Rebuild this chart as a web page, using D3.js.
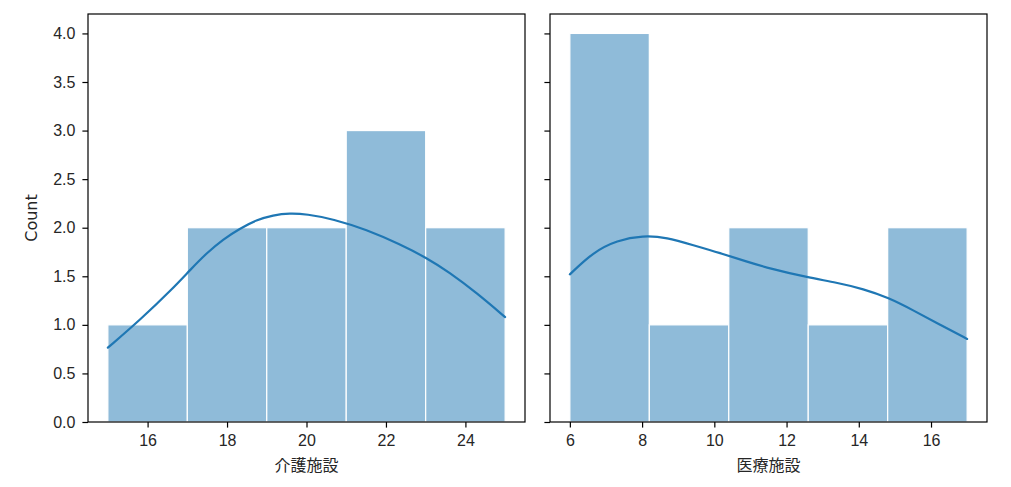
<!DOCTYPE html>
<html lang="ja">
<head>
  <meta charset="utf-8">
  <title>介護施設 / 医療施設 histogram</title>
  <script src="https://cdn.jsdelivr.net/npm/d3@7"></script>
  <style>
  body { margin: 0; background: #fff; }
  svg { font-family: "DejaVu Sans", sans-serif; }
  </style>
</head>
<body>
  <script>
  // histogram bins and counts
  var leftEdges = [15, 17, 19, 21, 23, 25];
  var leftCounts = [1, 2, 2, 3, 2];
  var rightEdges = [6, 8.2, 10.4, 12.6, 14.8, 17];
  var rightCounts = [4, 1, 2, 1, 2];

  // kde lines (estimated points along the curve)
  var leftKdeX = [15.0, 15.81, 16.65, 17.07, 17.49, 17.9, 18.32, 18.74, 19.16, 19.58, 20.0, 20.67, 21.51, 22.35, 23.02, 23.6, 24.28, 25.0];
  var leftKdeY = [0.765, 1.05, 1.38, 1.565, 1.74, 1.88, 1.99, 2.08, 2.13, 2.15, 2.14, 2.09, 1.98, 1.83, 1.69, 1.54, 1.33, 1.08];
  var rightKdeX = [6.0, 6.65, 7.3, 8.03, 8.68, 9.42, 10.16, 10.9, 11.54, 12.56, 13.39, 14.13, 14.82, 15.51, 16.25, 17.0];
  var rightKdeY = [1.52, 1.75, 1.87, 1.92, 1.90, 1.82, 1.74, 1.65, 1.58, 1.49, 1.435, 1.37, 1.28, 1.15, 1.0, 0.855];

  var leftTicks = [16, 18, 20, 22, 24];
  var rightTicks = [6, 8, 10, 12, 14, 16];
  var yTicks = [0, 0.5, 1, 1.5, 2, 2.5, 3, 3.5, 4];
  var xLabels = ["介護施設", "医療施設"];

  var width = 1011, height = 487;
  var plotTop = 14, plotBottom = 422;
  var fill = "#8fbbd9", line = "#1f77b4";

  var svg = d3.select("body").append("svg")
  .attr("width", width)
  .attr("height", height);

  var y = d3.scaleLinear().domain([0, 4.2]).range([plotBottom, plotTop]);

  function panel(x0, x1, edges, counts, kx, ky, ticks, label, showY) {
    var lo = edges[0], hi = edges[edges.length - 1], pad = (hi - lo) * 0.05;
    var x = d3.scaleLinear().domain([lo - pad, hi + pad]).range([x0, x1]);
    var g = svg.append("g");

    g.selectAll("rect").data(counts).enter().append("rect")
    .attr("x", function(d, i) { return x(edges[i]); })
    .attr("y", function(d) { return y(d); })
    .attr("width", function(d, i) { return x(edges[i + 1]) - x(edges[i]); })
    .attr("height", function(d) { return y(0) - y(d); })
    .attr("fill", fill)
    .attr("stroke", "#fff")
    .attr("stroke-width", 1.2);

    var pts = kx.map(function(v, i) { return [v, ky[i]]; });
    g.append("path")
    .attr("d", d3.line()
      .x(function(d) { return x(d[0]); })
      .y(function(d) { return y(d[1]); })
      .curve(d3.curveBasis)(pts))
    .attr("fill", "none")
    .attr("stroke", line)
    .attr("stroke-width", 2.2)
    .attr("stroke-linecap", "round");

    var xa = g.append("g")
    .attr("transform", "translate(0," + plotBottom + ")")
    .call(d3.axisBottom(x).tickValues(ticks).tickSize(5.6).tickPadding(7).tickFormat(d3.format("d")));
    xa.select(".domain").remove();

    var ya = g.append("g")
    .attr("transform", "translate(" + x0 + ",0)")
    .call(d3.axisLeft(y).tickValues(yTicks).tickSize(5.6).tickPadding(7).tickFormat(d3.format(".1f")));
    ya.select(".domain").remove();
    if (!showY) ya.selectAll("text").remove();

    g.selectAll(".tick line").attr("stroke", "#000").attr("stroke-width", 1.2);
    g.selectAll(".tick text").attr("fill", "#262626").style("font-size", "16px");

    g.append("rect")
    .attr("x", x0).attr("y", plotTop)
    .attr("width", x1 - x0).attr("height", plotBottom - plotTop)
    .attr("fill", "none")
    .attr("stroke", "#000")
    .attr("stroke-width", 1.2);

    g.append("text")
    .attr("x", (x0 + x1) / 2)
    .attr("y", 471)
    .attr("text-anchor", "middle")
    .attr("fill", "#262626")
    .style("font-family", "'Noto Sans CJK JP', sans-serif")
    .style("font-size", "16px")
    .text(label);
  }

  panel(88, 525, leftEdges, leftCounts, leftKdeX, leftKdeY, leftTicks, xLabels[0], true);
  panel(550, 987, rightEdges, rightCounts, rightKdeX, rightKdeY, rightTicks, xLabels[1], false);

  svg.append("text")
  .attr("transform", "translate(37," + ((plotTop + plotBottom) / 2) + ") rotate(-90)")
  .attr("text-anchor", "middle")
  .attr("fill", "#262626")
  .style("font-size", "16px")
  .text("Count");
  </script>
</body>
</html>
